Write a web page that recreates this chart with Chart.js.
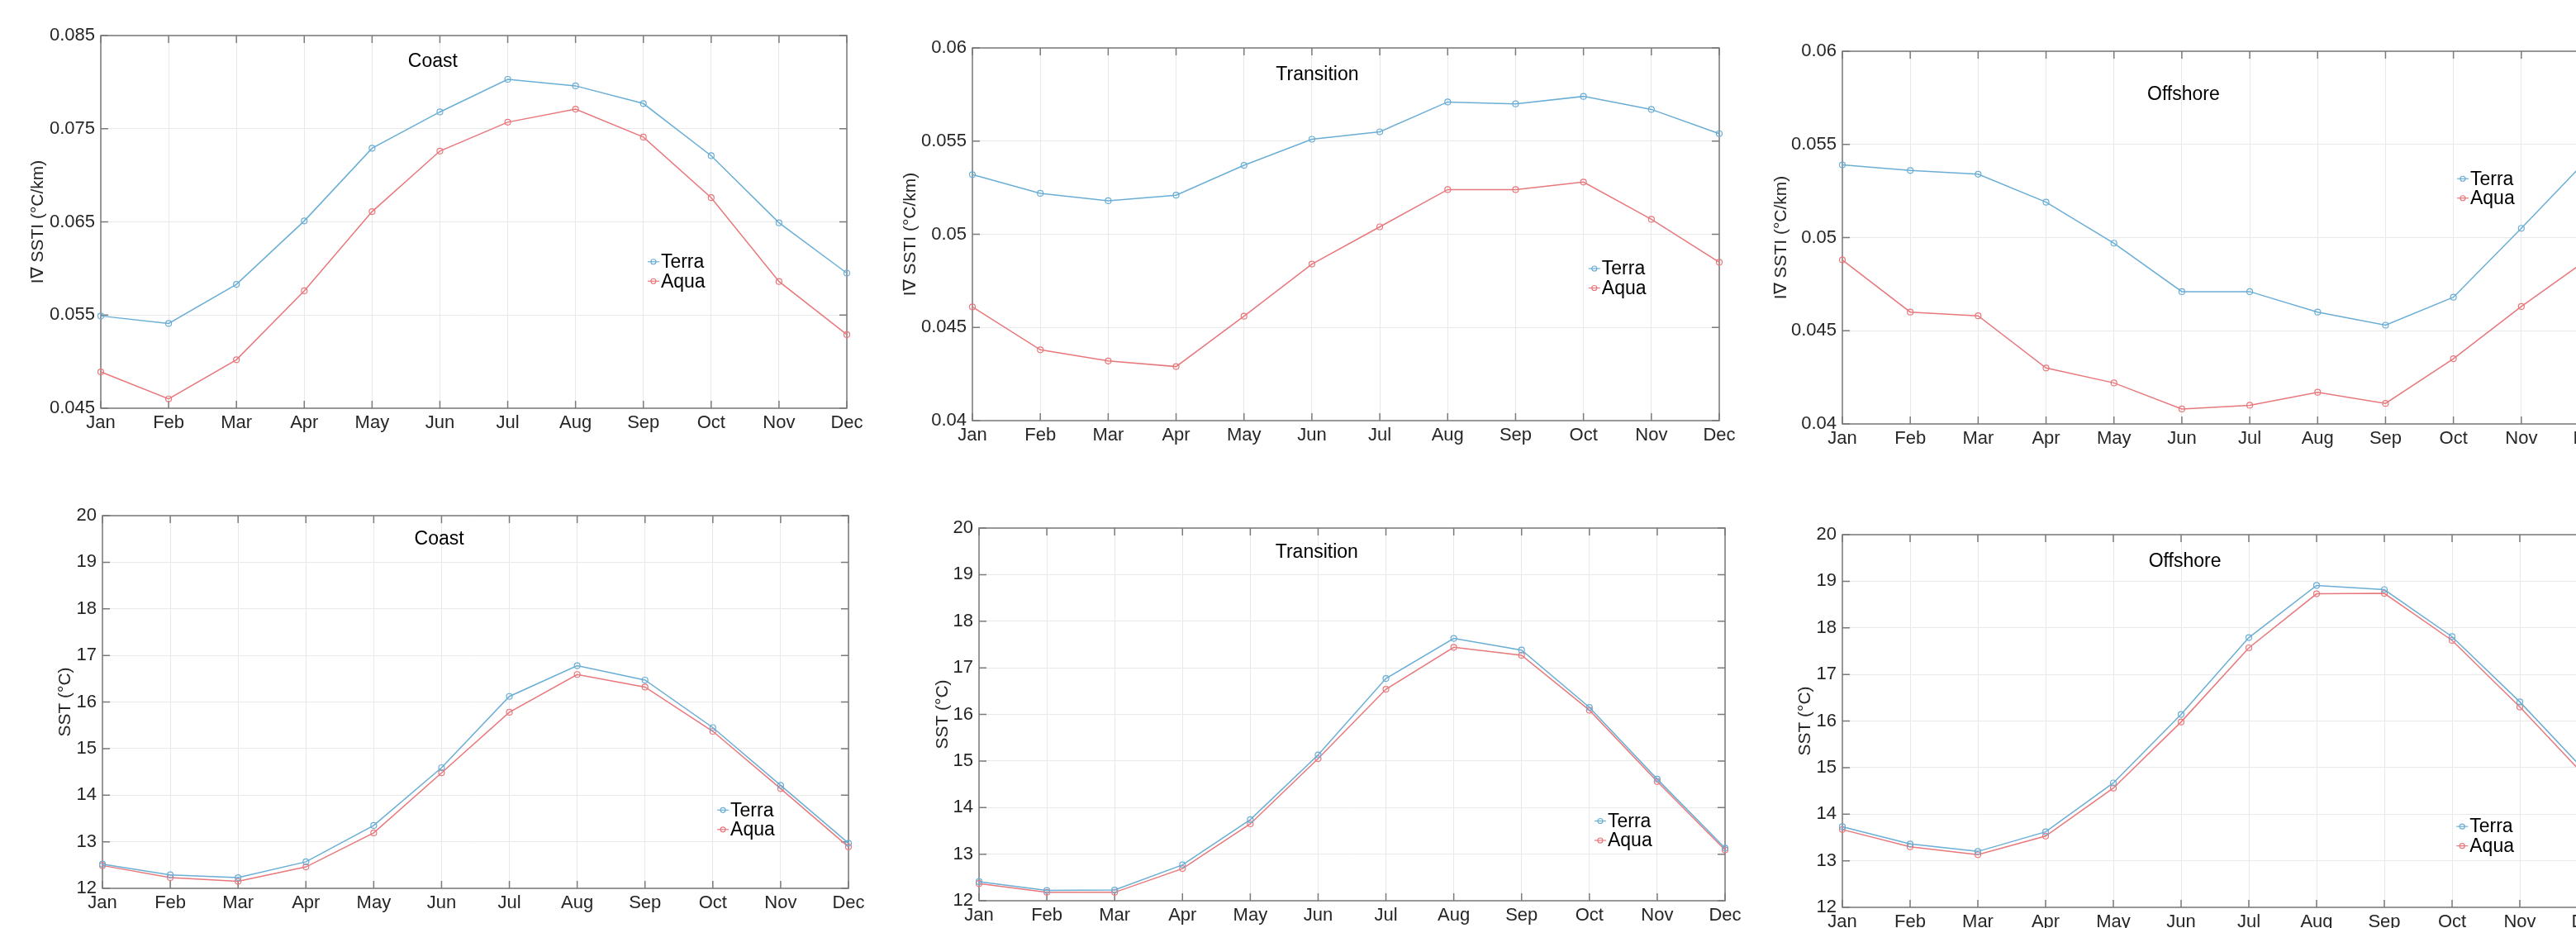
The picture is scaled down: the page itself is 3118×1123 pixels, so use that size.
<!DOCTYPE html>
<html>
<head>
<meta charset="utf-8">
<title>Terra / Aqua monthly SST and SST gradient</title>
<script src="https://cdn.jsdelivr.net/npm/chart.js@4.4.1/dist/chart.umd.min.js"></script>
<style>
  html, body { margin: 0; padding: 0; background: #fff; }
  body { width: 3118px; height: 1123px; overflow: hidden; position: relative; }
  canvas { position: absolute; }
</style>
</head>
<body>
<script>
// months on the x axis
const months = ['Jan', 'Feb', 'Mar', 'Apr', 'May', 'Jun', 'Jul', 'Aug', 'Sep', 'Oct', 'Nov', 'Dec'];

// |grad SST| (°C/km)
const gradCoastTerra = [0.0549, 0.0541, 0.0583, 0.0651, 0.0729, 0.0768, 0.0803, 0.0796, 0.0777, 0.0721, 0.0649, 0.0595];
const gradCoastAqua  = [0.0489, 0.0460, 0.0502, 0.0576, 0.0661, 0.0726, 0.0757, 0.0771, 0.0741, 0.0676, 0.0586, 0.0529];
const gradTransTerra = [0.0532, 0.0522, 0.0518, 0.0521, 0.0537, 0.0551, 0.0555, 0.0571, 0.0570, 0.0574, 0.0567, 0.0554];
const gradTransAqua  = [0.0461, 0.0438, 0.0432, 0.0429, 0.0456, 0.0484, 0.0504, 0.0524, 0.0524, 0.0528, 0.0508, 0.0485];
const gradOffTerra   = [0.0539, 0.0536, 0.0534, 0.0519, 0.0497, 0.0471, 0.0471, 0.0460, 0.0453, 0.0468, 0.0505, 0.0543];
const gradOffAqua    = [0.0488, 0.0460, 0.0458, 0.0430, 0.0422, 0.0408, 0.0410, 0.0417, 0.0411, 0.0435, 0.0463, 0.0489];

// SST (°C)
const sstCoastTerra = [12.52, 12.29, 12.23, 12.57, 13.35, 14.59, 16.12, 16.78, 16.47, 15.45, 14.21, 12.97];
const sstCoastAqua  = [12.49, 12.23, 12.15, 12.46, 13.19, 14.48, 15.78, 16.59, 16.32, 15.37, 14.14, 12.89];
const sstTransTerra = [12.41, 12.22, 12.23, 12.77, 13.74, 15.13, 16.77, 17.63, 17.38, 16.15, 14.61, 13.13];
const sstTransAqua  = [12.37, 12.18, 12.18, 12.69, 13.65, 15.05, 16.54, 17.44, 17.27, 16.09, 14.56, 13.09];
const sstOffTerra   = [13.73, 13.36, 13.20, 13.62, 14.67, 16.14, 17.79, 18.91, 18.82, 17.81, 16.41, 14.87];
const sstOffAqua    = [13.67, 13.30, 13.13, 13.53, 14.56, 15.98, 17.57, 18.73, 18.74, 17.73, 16.30, 14.76];

// y tick values
const gradCoastTicks = [0.045, 0.055, 0.065, 0.075, 0.085];
const gradTicks = [0.04, 0.045, 0.05, 0.055, 0.06];
const sstTicks = [12, 13, 14, 15, 16, 17, 18, 19, 20];

const TERRA = '#6aaed6';
const AQUA = '#e8787c';
const BOX = '#7a7a7a';
const FONT = '"Liberation Sans", Arial, Helvetica, sans-serif';
const gradLabel = 'I\u2207 SSTI (\u00b0C/km)';
const sstLabel = 'SST (\u00b0C)';

// plot-area rectangles (page px) and annotation placement
const panels = [
    { plot: [122, 43, 903, 451], terra: gradCoastTerra, aqua: gradCoastAqua, ticks: gradCoastTicks, ylab: gradLabel, ypad: 12,
      title: 'Coast', titleAt: [4.53, 0.0822], legendAt: [0.733, 0.607] },
    { plot: [1177, 58, 904, 451], terra: gradTransTerra, aqua: gradTransAqua, ticks: gradTicks, ylab: gradLabel, ypad: 13,
      title: 'Transition', titleAt: [4.47, 0.05854], legendAt: [0.825, 0.592] },
    { plot: [2230, 62, 904, 451], terra: gradOffTerra, aqua: gradOffAqua, ticks: gradTicks, ylab: gradLabel, ypad: 14,
      title: 'Offshore', titleAt: [4.49, 0.05767], legendAt: [0.823, 0.342] },
    { plot: [124, 624, 903, 451], terra: sstCoastTerra, aqua: sstCoastAqua, ticks: sstTicks, ylab: sstLabel, ypad: 43,
      title: 'Coast', titleAt: [4.6, 19.49], legendAt: [0.824, 0.79] },
    { plot: [1185, 639, 903, 451], terra: sstTransTerra, aqua: sstTransAqua, ticks: sstTicks, ylab: sstLabel, ypad: 44,
      title: 'Transition', titleAt: [4.37, 19.47], legendAt: [0.825, 0.786] },
    { plot: [2230, 647, 902, 451], terra: sstOffTerra, aqua: sstOffAqua, ticks: sstTicks, ylab: sstLabel, ypad: 43,
      title: 'Offshore', titleAt: [4.52, 19.42], legendAt: [0.824, 0.783] }
];

const Y_W = 100, X_H = 45, PAD_T = 30, PAD_R = 40, PAD_B = 5;

// box with inward ticks, text label and small legend drawn inside the axes
const panelDecor = {
    id: 'panelDecor',
    beforeDatasetsDraw(chart) {
        const { ctx, chartArea: a, scales: { x, y } } = chart;
        ctx.save();
        ctx.strokeStyle = BOX;
        ctx.lineWidth = 1.5;
        ctx.strokeRect(a.left, a.top, a.width, a.height);
        ctx.beginPath();
        x.ticks.forEach((t, i) => {
            const px = x.getPixelForTick(i);
            ctx.moveTo(px, a.bottom); ctx.lineTo(px, a.bottom - 9);
            ctx.moveTo(px, a.top); ctx.lineTo(px, a.top + 9);
        });
        y.ticks.forEach(t => {
            const py = y.getPixelForValue(t.value);
            ctx.moveTo(a.left, py); ctx.lineTo(a.left + 9, py);
            ctx.moveTo(a.right, py); ctx.lineTo(a.right - 9, py);
        });
        ctx.stroke();
        ctx.restore();
    },
    afterDraw(chart, args, opts) {
        const { ctx, chartArea: a, scales: { x, y } } = chart;
        ctx.save();
        ctx.font = '23px ' + FONT;
        ctx.fillStyle = '#000';
        ctx.textAlign = 'left';
        ctx.textBaseline = 'middle';
        ctx.fillText(opts.title, x.getPixelForValue(opts.titleAt[0]), y.getPixelForValue(opts.titleAt[1]));

        const lx = a.left + opts.legendAt[0] * a.width;
        const ly = a.top + opts.legendAt[1] * a.height;
        chart.data.datasets.forEach((ds, i) => {
            const yy = ly + i * 23.5;
            ctx.strokeStyle = ds.borderColor;
            ctx.lineWidth = 1.2;
            ctx.beginPath();
            ctx.moveTo(lx, yy); ctx.lineTo(lx + 14, yy);
            ctx.stroke();
            ctx.beginPath();
            ctx.arc(lx + 7, yy, 3, 0, Math.PI * 2);
            ctx.stroke();
            ctx.fillStyle = '#000';
            ctx.fillText(ds.label, lx + 16, yy + 1);
        });
        ctx.restore();
    }
};

function makeChart(p) {
    const [L, T, W, H] = p.plot;
    const canvas = document.createElement('canvas');
    canvas.width = W + Y_W + PAD_R;
    canvas.height = H + PAD_T + X_H + PAD_B;
    canvas.style.left = (L - Y_W) + 'px';
    canvas.style.top = (T - PAD_T) + 'px';
    document.body.appendChild(canvas);

    const line = (label, data, color) => ({
        label: label,
        data: data,
        borderColor: color,
        backgroundColor: color,
        borderWidth: 1.5,
        pointRadius: 3.5,
        pointBorderWidth: 1.2,
        pointBackgroundColor: 'rgba(0,0,0,0)',
        pointBorderColor: color,
        tension: 0,
        fill: false
    });

    new Chart(canvas.getContext('2d'), {
        type: 'line',
        data: {
            labels: months,
            datasets: [line('Terra', p.terra, TERRA), line('Aqua', p.aqua, AQUA)]
        },
        options: {
            responsive: false,
            animation: false,
            devicePixelRatio: 1,
            layout: { padding: { left: 0, top: PAD_T, right: PAD_R, bottom: PAD_B } },
            plugins: {
                legend: { display: false },
                tooltip: { enabled: false },
                panelDecor: { title: p.title, titleAt: p.titleAt, legendAt: p.legendAt }
            },
            scales: {
                x: {
                    offset: false,
                    grid: { color: '#e9e9e9', lineWidth: 1, drawTicks: false, offset: false },
                    border: { display: false },
                    ticks: { color: '#262626', padding: 5, maxRotation: 0, autoSkip: false, font: { family: FONT, size: 22 } },
                    afterFit: s => { s.height = X_H; }
                },
                y: {
                    min: p.ticks[0],
                    max: p.ticks[p.ticks.length - 1],
                    grid: { color: '#e9e9e9', lineWidth: 1, drawTicks: false },
                    border: { display: false },
                    ticks: {
                        color: '#262626',
                        padding: 7,
                        font: { family: FONT, size: 22 },
                        callback: v => String(+v.toFixed(4))
                    },
                    afterBuildTicks: s => { s.ticks = p.ticks.map(v => ({ value: v })); },
                    title: {
                        display: true,
                        text: p.ylab,
                        color: '#262626',
                        padding: { top: p.ypad, bottom: 0 },
                        font: { family: FONT, size: 21 }
                    },
                    afterFit: s => { s.width = Y_W; }
                }
            }
        },
        plugins: [panelDecor]
    });
}

document.addEventListener('DOMContentLoaded', () => {
    panels.forEach(makeChart);
});
</script>
</body>
</html>
